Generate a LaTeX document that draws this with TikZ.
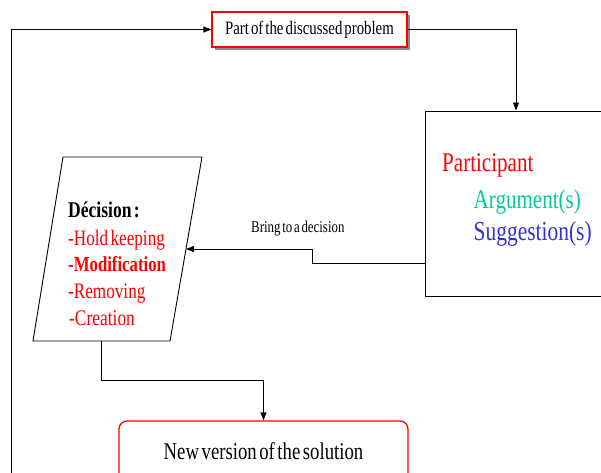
\documentclass[tikz,border=0pt]{standalone}
\usepackage{fontspec}
\setmainfont{Liberation Serif}[FakeStretch=0.78, WordSpace=0.55]
\usetikzlibrary{arrows.meta,shadows}
\definecolor{partred}{RGB}{255,0,0}
\definecolor{argteal}{RGB}{0,204,153}
\definecolor{sugblue}{RGB}{51,51,204}
\newcommand{\fs}[1]{\fontsize{#1}{#1}\selectfont}

\begin{document}
\begin{tikzpicture}[x=1pt,y=-1pt,
  wire/.style={draw=black, line width=0.9pt},
  arr/.style={wire, -{Triangle[length=8pt,width=6pt]}},
  problembox/.style={draw=partred, line width=1.3pt, fill=white,
    minimum width=195pt, minimum height=35pt, inner sep=0pt,
    drop shadow={shadow xshift=3pt, shadow yshift=-3pt, fill=black!45, opacity=1}},
  partbox/.style={draw=black, line width=1pt, minimum width=187pt,
    minimum height=185pt, inner sep=0pt},
  solbox/.style={draw=partred, line width=1.3pt, rounded corners=8pt,
    minimum width=289pt, minimum height=60pt, inner sep=0pt},
  txt/.style={inner sep=0pt, anchor=base west},
]
\useasboundingbox (0,0) rectangle (601,472);
\clip (0,0) rectangle (601,472);

% problem statement
\node[problembox] (problem) at (309.5,29.5) {\fs{19}Part of the discussed problem};

% participant box and its contents
\node[partbox] (part) at (518.5,203.5) {};
\node[txt, text=partred] (participant) at (442,171.5) {\fs{27}Participant};
\node[txt, text=argteal] (argument) at (473.5,208) {\fs{27}Argument(s)};
\node[txt, text=sugblue] (suggestion) at (473.5,240) {\fs{27.5}Suggestion(s)};

% decision parallelogram
\draw[line width=0.9pt] (63,157) -- (202,157) -- (170,341) -- (33,341) -- cycle;
\coordinate (decin) at (186,249);
\coordinate (decout) at (101,341);
\node[txt] (dhead) at (68,217.5) {\fs{22.5}\bfseries Décision :};
\node[txt, text=partred] (dhold) at (68,245) {\fs{22}-Hold keeping};
\node[txt, text=partred] (dmod) at (68,271.5) {\fs{21.5}\bfseries -Modification};
\node[txt, text=partred] (drem) at (68,298) {\fs{22}-Removing};
\node[txt, text=partred] (dcre) at (69,325.5) {\fs{22.3}-Creation};

% new solution
\node[solbox] (sol) at (263.5,451) {\fs{24}New version of the solution};

% connectors
\draw[arr] (problem.east) -| ([xshift=-2.5pt]part.north);
\coordinate (kink) at (312,249);
\draw[arr] ([yshift=-59.5pt]part.west) -| (kink) -- (decin);
\node[txt] (bring) at (251,232) {\fs{16.5}Bring to a decision};
\coordinate (drop) at (101,380);
\draw[arr] (decout) -- (drop) -| (sol.north);
\coordinate (loop) at (11,490);
\draw[arr] (loop) |- (problem.west);
\end{tikzpicture}
\end{document}
